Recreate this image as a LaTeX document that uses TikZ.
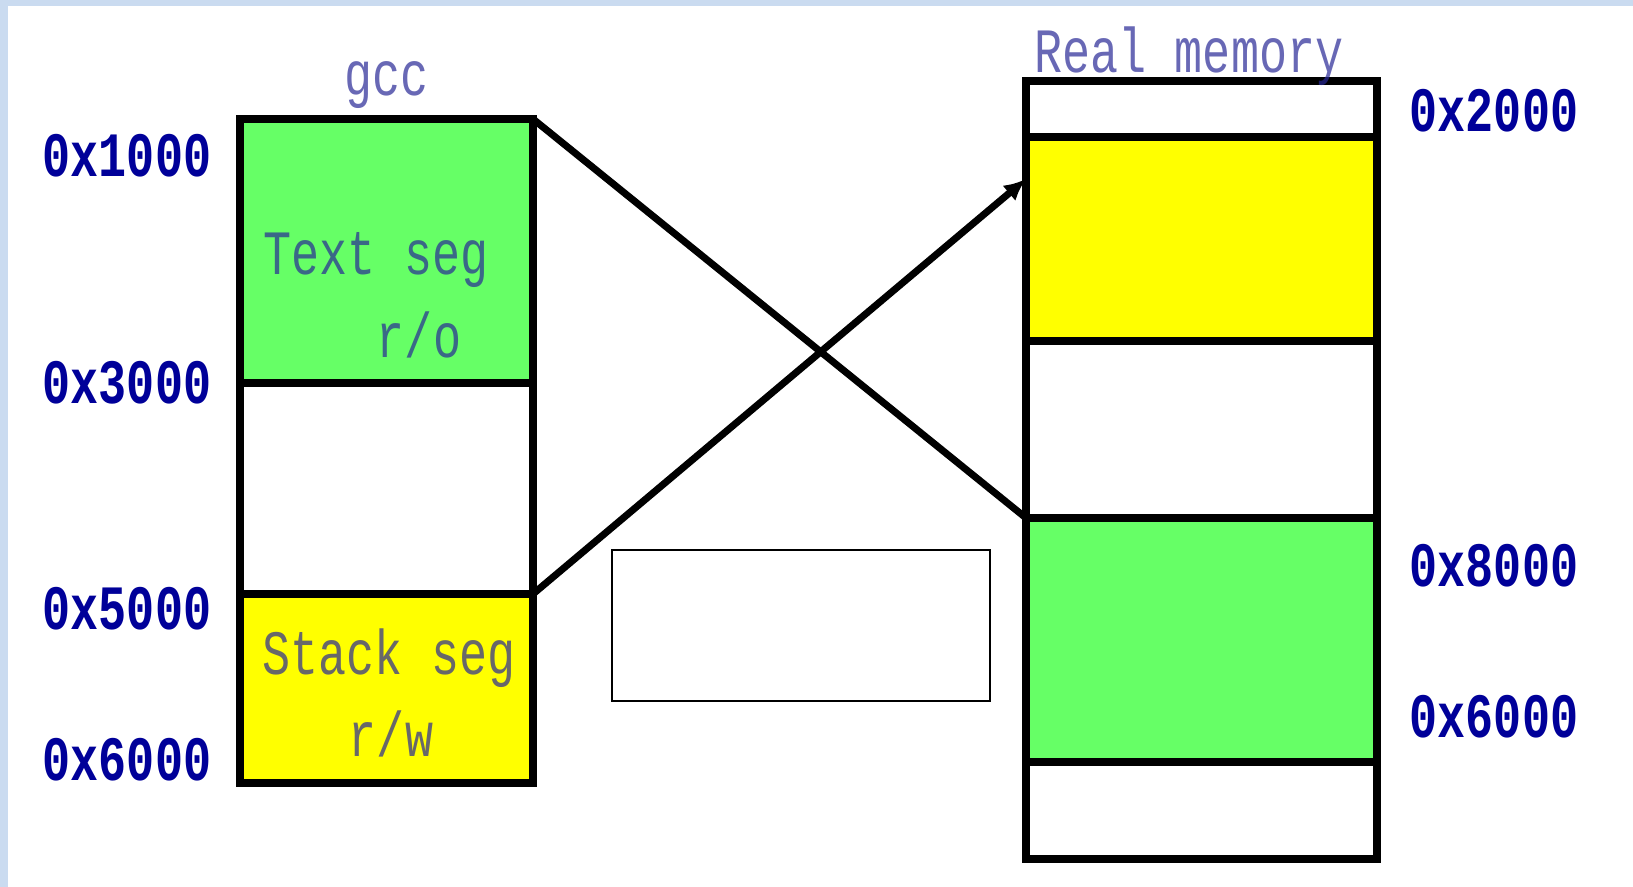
\documentclass[tikz,border=0pt]{standalone}
\usepackage{fontspec}
\newfontfamily\memfont{Liberation Mono}
\usetikzlibrary{positioning, arrows.meta}

\definecolor{addrblue}{RGB}{0,0,153}
\definecolor{segblue}{RGB}{40,40,150}
\definecolor{seggreen}{RGB}{102,255,102}
\definecolor{segyellow}{RGB}{255,255,0}
\definecolor{frameblue}{RGB}{202,219,240}

% tall narrow typewriter text
\newcommand{\tall}[1]{\scalebox{1}[1.35]{#1}}

\tikzset{
	seg/.style={draw, line width=2.4pt, outer sep=0pt, inner sep=0pt, minimum width=#1},
	addr/.style={font=\memfont\bfseries\fontsize{13.3}{16}\selectfont, text=addrblue, inner sep=0pt},
	memtext/.style={font=\memfont\fontsize{13.3}{16}\selectfont, text=segblue, text opacity=0.7, inner sep=0pt},
}

\begin{document}
\begin{tikzpicture}
		\useasboundingbox (0,0) rectangle (16.33,-8.87);
		\fill[frameblue] (0,0) rectangle (16.33,-0.06);
		\fill[frameblue] (0,0) rectangle (0.08,-8.87);

		% gcc address space
		\node[seg=2.93cm, fill=seggreen, minimum height=2.64cm, anchor=north west] (textseg) at (2.40,-1.19) {};
		\node[seg=2.93cm, minimum height=2.11cm, below=0pt of textseg] (hole) {};
		\node[seg=2.93cm, fill=segyellow, minimum height=1.89cm, below=0pt of hole] (stackseg) {};
		\node[memtext, above=0.1cm of textseg] (gcc) {\tall{gcc}};

		\node[memtext] at (3.76,-2.60) {\tall{Text seg}};
		\node[memtext] at (4.19,-3.35) {\tall{r/o}};
		\node[memtext] at (3.89,-6.58) {\tall{Stack seg}};
		\node[memtext] at (3.91,-7.34) {\tall{r/w}};

		\node[addr] (a1000) at (1.27,-1.56) {\tall{0x1000}};
		\node[addr] (a3000) at (1.27,-3.83) {\tall{0x3000}};
		\node[addr] (a5000) at (1.27,-6.09) {\tall{0x5000}};
		\node[addr] (a6000) at (1.27,-7.60) {\tall{0x6000}};

		% physical memory
		\node[seg=3.51cm, minimum height=0.56cm, anchor=north west] (rtop) at (10.26,-0.81) {};
		\node[seg=3.51cm, fill=segyellow, minimum height=2.04cm, below=0pt of rtop] (ryellow) {};
		\node[seg=3.51cm, minimum height=1.77cm, below=0pt of ryellow] (rmid) {};
		\node[seg=3.51cm, fill=seggreen, minimum height=2.44cm, below=0pt of rmid] (rgreen) {};
		\node[seg=3.51cm, minimum height=0.97cm, below=0pt of rgreen] (rbottom) {};
		\node[memtext, anchor=south west] (real) at (10.34,-0.86) {\tall{Real memory}};

		\node[addr] (r2000) at (14.94,-1.11) {\tall{0x2000}};
		\node[addr] (r8000) at (14.94,-5.66) {\tall{0x8000}};
		\node[addr] (r6000) at (14.94,-7.17) {\tall{0x6000}};

		\node[draw, line width=0.7pt, minimum width=3.78cm, minimum height=1.51cm] (blank) at (8.01,-6.255) {};

		\draw[line width=2pt] (textseg.north east) -- (rgreen.north west);
		\draw[line width=2pt, -{Latex[length=2.2mm, width=2mm]}] (stackseg.north east) -- ([yshift=-0.42cm]ryellow.north west);
	\end{tikzpicture}
\end{document}
